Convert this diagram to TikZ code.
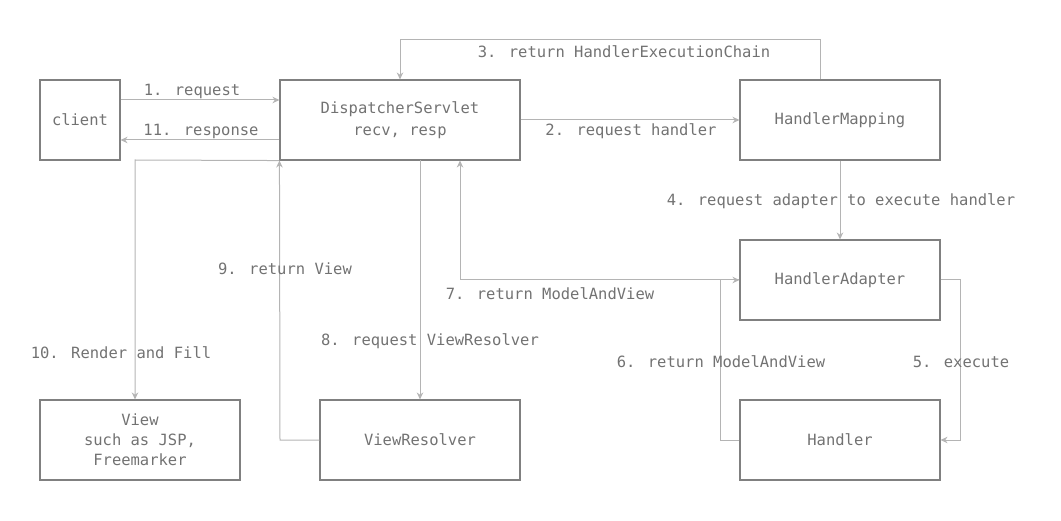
\documentclass[tikz,border=0pt]{standalone}
\usepackage{fontspec}
\setmainfont{DejaVu Sans Mono}
\usetikzlibrary{arrows.meta}
\definecolor{boxc}{HTML}{808080}
\definecolor{linec}{HTML}{B4B4B4}
\definecolor{txtc}{HTML}{727272}
\begin{document}
\begin{tikzpicture}[x=1pt,y=-1pt,
  font=\fontsize{15.5}{20}\selectfont,
  box/.style={draw=boxc,line width=1.1pt,text=txtc,minimum height=80pt,align=center,inner sep=0pt},
  conn/.style={draw=linec,line width=1pt,-{Stealth[length=7pt,width=6.5pt]}},
  lbl/.style={text=txtc,inner sep=0pt}]
\useasboundingbox (0,0) rectangle (1061,521);
\node[box,minimum width=80pt] (client) at (80,120) {client};
\node[box,minimum width=240pt] (ds) at (400,120) {DispatcherServlet\\[2pt]recv, resp};
\node[box,minimum width=200pt] (hm) at (840,120) {HandlerMapping};
\node[box,minimum width=200pt] (ha) at (840,280) {HandlerAdapter};
\node[box,minimum width=200pt] (h) at (840,440) {Handler};
\node[box,minimum width=200pt] (v) at (140,440) {View\\such as JSP,\\Freemarker};
\node[box,minimum width=200pt] (vr) at (420,440) {ViewResolver};
% 1
\draw[conn] (client.east |- 0,100) -- (ds.west |- 0,100);
\node[lbl] (l1) at (192,91.5) {1. request};
% 11
\draw[conn] (ds.west |- 0,140) -- (client.east |- 0,140);
\node[lbl] (l11) at (201,131.5) {11. response};
% 2
\draw[conn] (ds.east) -- (hm.west);
\node[lbl] (l2) at (631,131.5) {2. request handler};
% 3
\coordinate (c3a) at (820,40);
\coordinate (c3b) at (400,40);
\draw[conn] (hm.north -| c3a) -- (c3a) -- (c3b) -- (ds.north -| c3b);
\node[lbl] (l3) at (624,51.5) {3. return HandlerExecutionChain};
% 4
\draw[conn] (hm.south) -- (ha.north);
\node[lbl] (l4) at (841,201.5) {4. request adapter to execute handler};
% 5
\coordinate (c5a) at (960,280);
\coordinate (c5b) at (960,440);
\draw[conn] (ha.east) -- (c5a) -- (c5b) -- (h.east);
\node[lbl] (l5) at (961,361.5) {5. execute};
% 6
\coordinate (c6a) at (720,440);
\coordinate (c6b) at (720,280);
\draw[conn] (h.west) -- (c6a) -- (c6b) -- (ha.west);
\node[lbl] (l6) at (721,361.5) {6. return ModelAndView};
% 7
\coordinate (c7) at (460,280);
\draw[conn] (ha.west) -- (c7) -- (ds.south -| c7);
\node[lbl] (l7) at (550,293.5) {7. return ModelAndView};
% 8
\coordinate (c8) at (420,160);
\draw[conn] (c8) -- (vr.north);
\node[lbl] (l8) at (430,341.5) {8. request ViewResolver};
% 9
\coordinate (c9) at (280,440);
\draw[conn] (vr.west) -- (c9) -- (ds.south west);
\node[lbl] (l9) at (285,268.5) {9. return View};
% 10
\coordinate (c10) at (135,160);
\draw[conn] (ds.south west) -- (c10) -- (v.north -| c10);
\node[lbl] (l10) at (121,352.5) {10. Render and Fill};
\end{tikzpicture}
\end{document}
